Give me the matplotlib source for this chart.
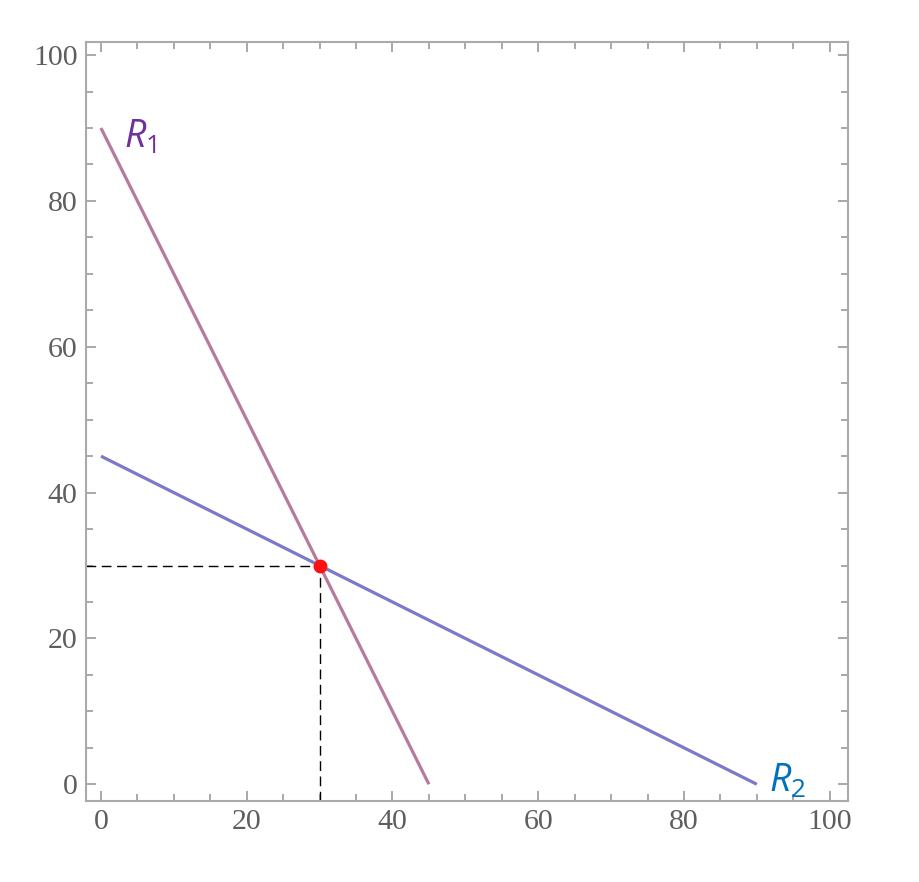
import numpy as np
import matplotlib.pyplot as plt
from matplotlib.ticker import MultipleLocator

# rectas R1 y R2 (extremos)
r1_x = [0, 45]
r1_y = [90, 0]
r2_x = [0, 90]
r2_y = [45, 0]
punto = (30, 30)
ticks = [0, 20, 40, 60, 80, 100]

plt.rcParams['mathtext.fontset'] = 'custom'
plt.rcParams['mathtext.it'] = 'Open Sans:italic'
plt.rcParams['mathtext.rm'] = 'Open Sans'

fig = plt.figure(figsize=(9.2, 8.82), dpi=100)
ax = fig.add_axes([0.0935, 0.0918, 0.8282, 0.8606])

xmin, xmax = -2.05, 102.5
ymin, ymax = -2.3, 101.8

ax.plot(r1_x, r1_y, color='#b57a9c', lw=2.3, solid_capstyle='butt')
ax.plot(r2_x, r2_y, color='#7a7ac8', lw=2.3, solid_capstyle='butt')

# guías discontinuas hasta los ejes
ax.plot([xmin, punto[0]], [punto[1], punto[1]], color='black', lw=1, dashes=(7, 4))
ax.plot([punto[0], punto[0]], [ymin, punto[1]], color='black', lw=1, dashes=(7, 4))
ax.plot(*punto, 'o', color='#ff1010', ms=9, zorder=5)

ax.text(3.2, 87.3, r'$R_1$', color='#7030a0', fontsize=27)
ax.text(91.7, -1.0, r'$R_2$', color='#0070c0', fontsize=27)

ax.set_xlim(xmin, xmax)
ax.set_ylim(ymin, ymax)
ax.set_xticks(ticks)
ax.set_yticks(ticks)
ax.xaxis.set_minor_locator(MultipleLocator(5))
ax.yaxis.set_minor_locator(MultipleLocator(5))
ax.tick_params(which='both', direction='in', top=True, right=True,
               color='#999999', width=1.2)
ax.tick_params(which='major', length=7, labelsize=21.5, labelcolor='#5e5e5e', pad=6)
ax.tick_params(which='minor', length=5)
for lab in ax.get_xticklabels() + ax.get_yticklabels():
    lab.set_family('Liberation Serif')
for s in ax.spines.values():
    s.set_color('#aaaaaa')
    s.set_linewidth(1.5)

fig.savefig('out.png', dpi=100)
